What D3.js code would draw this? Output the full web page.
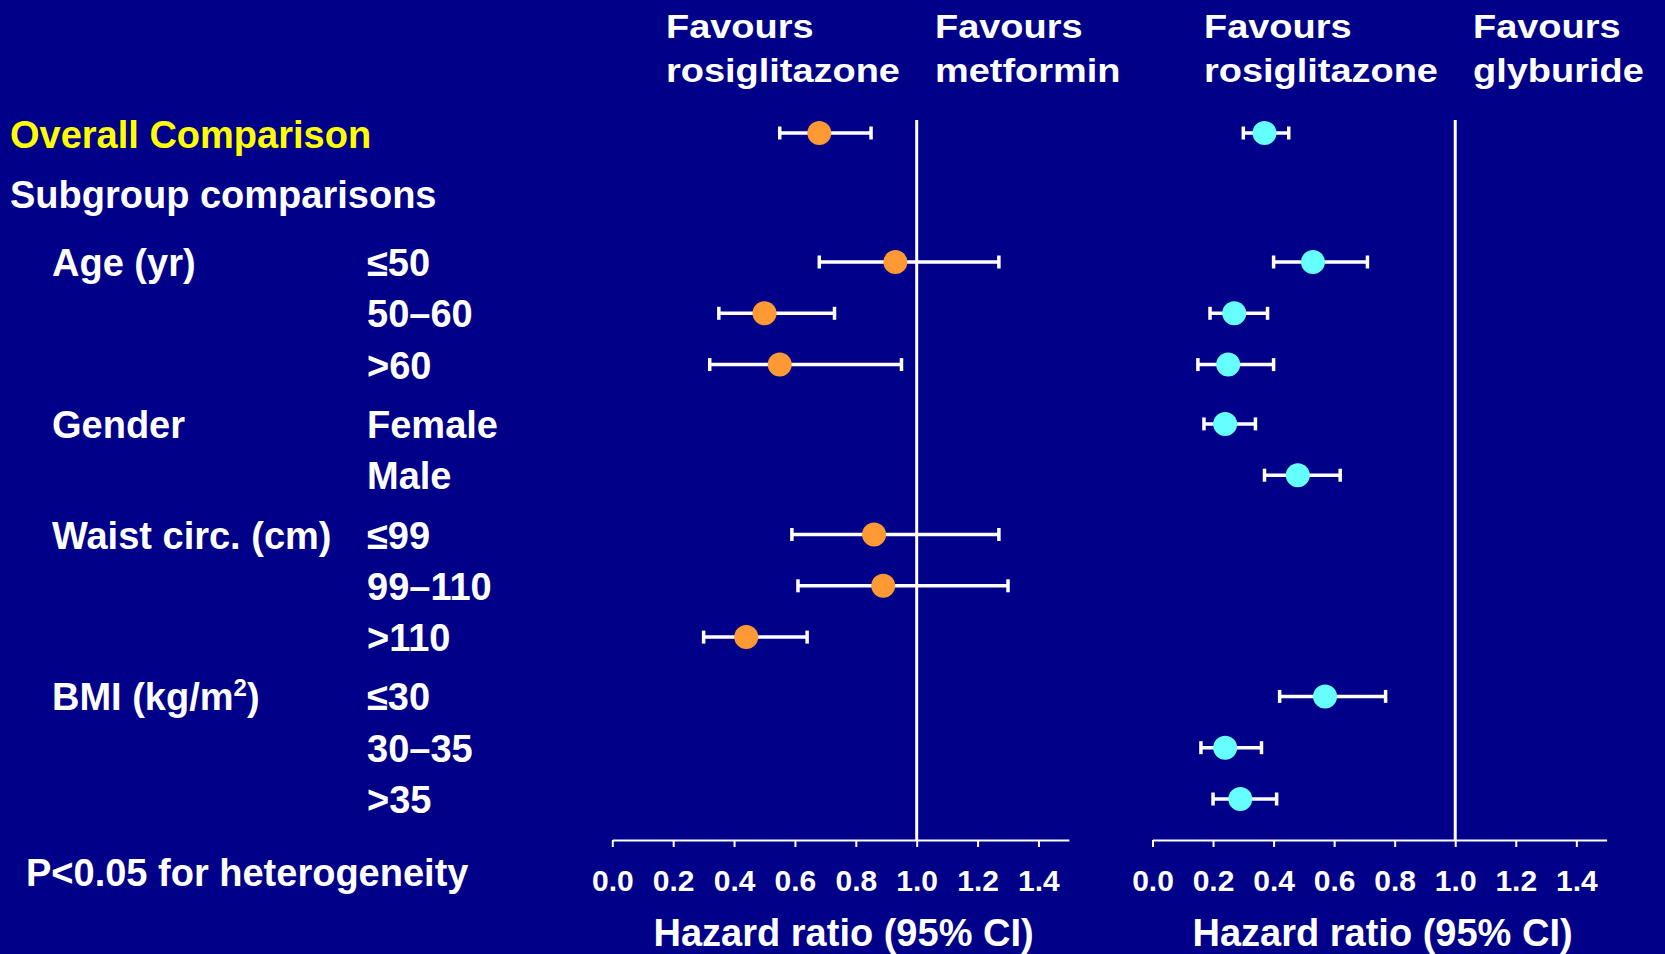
<!DOCTYPE html>
<html>
<head>
<meta charset="utf-8">
<script src="https://cdn.jsdelivr.net/npm/d3@7"></script>
<style>
  html, body { margin: 0; padding: 0; background: #000088; }
  svg { display: block; }
  text { font-family: "Liberation Sans", Arial, Helvetica, sans-serif; font-weight: bold; }
</style>
</head>
<body>
<div id="view"></div>
<script>
(function () {
  /* ================= DATA ================= */
  const groupNames = ["Age (yr)", "Gender", "Waist circ. (cm)", "BMI (kg/m²)"];
  const subgroups  = ["≤50", "50–60", ">60", "Female", "Male", "≤99", "99–110", ">110", "≤30", "30–35", ">35"];
  const subgroupOf = [0, 0, 0, 1, 1, 2, 2, 2, 3, 3, 3];

  // rosiglitazone vs metformin (null = not shown)
  const metHR = [0.93, 0.50, 0.55, null, null, 0.86, 0.89, 0.44, null, null, null];
  const metLo = [0.68, 0.35, 0.32, null, null, 0.59, 0.61, 0.30, null, null, null];
  const metHi = [1.27, 0.73, 0.95, null, null, 1.27, 1.30, 0.64, null, null, null];

  // rosiglitazone vs glyburide
  const glyHR = [0.53, 0.27, 0.25, 0.24, 0.48, null, null, null, 0.57, 0.24, 0.29];
  const glyLo = [0.40, 0.19, 0.15, 0.17, 0.37, null, null, null, 0.42, 0.16, 0.20];
  const glyHi = [0.71, 0.38, 0.40, 0.34, 0.62, null, null, null, 0.77, 0.36, 0.41];

  const overallMet = { hr: 0.68, lo: 0.55, hi: 0.85 };
  const overallGly = { hr: 0.37, lo: 0.30, hi: 0.45 };

  const tickValues = [0, 0.2, 0.4, 0.6, 0.8, 1.0, 1.2, 1.4];
  const headers = [
    ["Favours", "rosiglitazone"], ["Favours", "metformin"],
    ["Favours", "rosiglitazone"], ["Favours", "glyburide"]
  ];

  /* ================= LAYOUT ================= */
  const W = 1665, H = 954;
  const BG = "#000088";
  const ORANGE = "#FF9933", CYAN = "#66FFFF", YELLOW = "#FFFF00";
  const axisY = 840, lineTop = 120;
  const overallY = 133;

  const svg = d3.select("#view").append("svg")
    .attr("width", W).attr("height", H);
  svg.append("rect").attr("width", W).attr("height", H).attr("fill", BG);

  const x1 = d3.scaleLinear().domain([0, 1.5]).range([612.3, 1068.9]);
  const x2 = d3.scaleLinear().domain([0, 1.5]).range([1152.5, 1606.6]);

  // row slot: index + small gap between groups
  const y = d3.scaleLinear().domain([0, 1]).range([262, 313.3]);
  const rowY = i => y(i + subgroupOf[i] * 0.156);

  /* ---- left labels ---- */
  svg.append("text").attr("x", 10).attr("y", overallY + 15)
    .attr("fill", YELLOW).style("font-size", "38px").text("Overall Comparison");
  svg.append("text").attr("x", 10).attr("y", 208)
    .attr("fill", "#fff").style("font-size", "38px").text("Subgroup comparisons");

  groupNames.forEach((g, gi) => {
    const first = subgroupOf.indexOf(gi);
    const t = svg.append("text").attr("x", 52).attr("y", rowY(first) + 14)
      .attr("fill", "#fff").style("font-size", "38px");
    if (g.includes("²")) {
      const [a, b] = g.split("²");
      t.append("tspan").text(a);
      t.append("tspan").attr("dy", -14).style("font-size", "24px").text("2");
      t.append("tspan").attr("dy", 14).text(b);
    } else {
      t.text(g);
    }
  });

  svg.selectAll("text.sub")
    .data(subgroups)
    .join("text")
    .attr("class", "sub")
    .attr("x", 367)
    .attr("y", (d, i) => rowY(i) + 14)
    .attr("fill", "#fff")
    .style("font-size", "38px")
    .text(d => d);

  svg.append("text").attr("x", 26).attr("y", 886)
    .attr("fill", "#fff").style("font-size", "38px").text("P<0.05 for heterogeneity");

  /* ---- headers ---- */
  const headerX = [666, 935, 1204, 1473];
  headers.forEach((lines, k) => {
    lines.forEach((s, j) => {
      svg.append("text")
        .attr("transform", `translate(${headerX[k]},${j === 0 ? 38 : 82}) scale(1.15,1)`)
        .attr("fill", "#fff")
        .style("font-size", "33px")
        .text(s);
    });
  });

  /* ---- panels ---- */
  function panel(x, hr, lo, hi, overall, color) {
    const g = svg.append("g");

    // axis
    const ax = g.append("g")
      .attr("transform", `translate(0,${axisY})`)
      .call(d3.axisBottom(x)
        .tickValues(tickValues)
        .tickSize(7)
        .tickSizeOuter(0)
        .tickPadding(23)
        .tickFormat(d3.format(".1f")));
    ax.select(".domain").attr("stroke", "#fff").attr("stroke-width", 2);
    ax.selectAll(".tick line").attr("stroke", "#fff").attr("stroke-width", 2);
    ax.selectAll(".tick text")
      .attr("fill", "#fff")
      .style("font-size", "30px")
      .style("font-family", '"Liberation Sans", Arial, sans-serif')
      .style("font-weight", "bold");

    g.append("text")
      .attr("x", (x.range()[0] + x.range()[1]) / 2 + 3)
      .attr("y", 946)
      .attr("text-anchor", "middle")
      .attr("fill", "#fff")
      .style("font-size", "38px")
      .text("Hazard ratio (95% CI)");

    // reference line at 1.0
    g.append("line")
      .attr("x1", x(1)).attr("x2", x(1))
      .attr("y1", lineTop).attr("y2", axisY)
      .attr("stroke", "#fff").attr("stroke-width", 3);

    const rows = [{ y: overallY, hr: overall.hr, lo: overall.lo, hi: overall.hi }];
    hr.forEach((v, i) => {
      if (v != null) rows.push({ y: rowY(i), hr: v, lo: lo[i], hi: hi[i] });
    });

    g.selectAll("line.ci").data(rows).join("line")
      .attr("class", "ci")
      .attr("x1", d => x(d.lo)).attr("x2", d => x(d.hi))
      .attr("y1", d => d.y).attr("y2", d => d.y)
      .attr("stroke", "#fff").attr("stroke-width", 3.5);

    ["lo", "hi"].forEach(k => {
      g.selectAll(`line.cap-${k}`).data(rows).join("line")
        .attr("class", `cap-${k}`)
        .attr("x1", d => x(d[k])).attr("x2", d => x(d[k]))
        .attr("y1", d => d.y - 6.5).attr("y2", d => d.y + 6.5)
        .attr("stroke", "#fff").attr("stroke-width", 3.5);
    });

    g.selectAll("circle.pt").data(rows).join("circle")
      .attr("class", "pt")
      .attr("cx", d => x(d.hr)).attr("cy", d => d.y)
      .attr("r", 12)
      .attr("fill", color);
  }

  panel(x1, metHR, metLo, metHi, overallMet, ORANGE);
  panel(x2, glyHR, glyLo, glyHi, overallGly, CYAN);
})();
</script>
</body>
</html>
